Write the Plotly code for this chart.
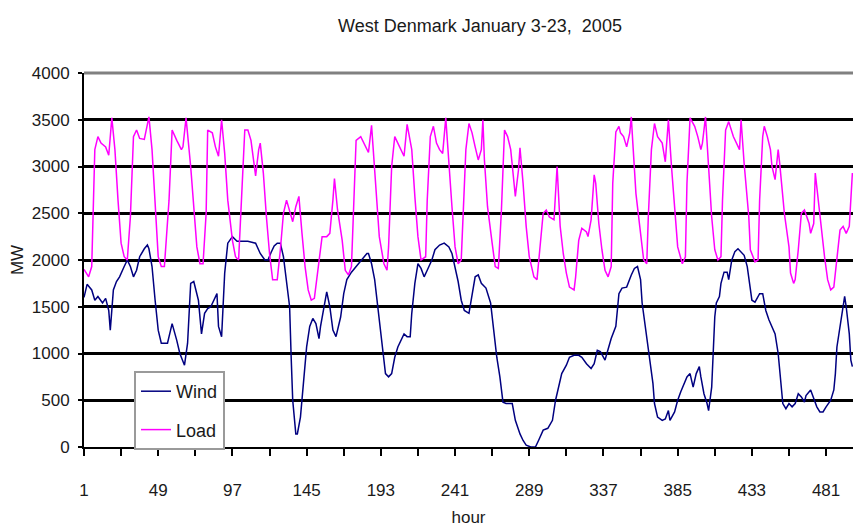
import plotly.graph_objects as go

# ---- data ----
wind_hour = [1, 3, 6, 8, 10, 13, 15, 17, 18, 20, 22, 24, 27, 29, 31, 33, 35, 37, 40, 42, 43, 45, 47, 49, 51, 55, 57, 58, 61,
             63, 66, 68, 70, 72, 75, 77, 79, 81, 83, 85, 87, 88, 90, 92, 94, 97, 100, 103, 107, 112, 115, 118, 120, 122,
             124, 126, 128, 130, 132, 134, 135, 136, 138, 139, 141, 143, 145, 147, 149, 151, 153, 154, 156, 158, 160, 162,
             164, 167, 169, 171, 174, 177, 181, 184, 185, 187, 189, 191, 193, 195, 196, 198, 200, 202, 204, 208, 210, 212,
             213, 215, 217, 219, 221, 223, 226, 228, 231, 234, 237, 239, 241, 243, 245, 247, 250, 252, 254, 256, 258, 261,
             264, 266, 268, 270, 272, 274, 278, 280, 283, 285, 287, 290, 293, 295, 298, 301, 304, 306, 308, 310, 313, 315,
             318, 321, 323, 326, 329, 331, 333, 335, 338, 340, 342, 345, 347, 349, 352, 355, 357, 359, 361, 362, 364, 366,
             368, 369, 370, 372, 375, 377, 379, 380, 383, 385, 387, 389, 391, 393, 395, 397, 399, 400, 402, 404, 405, 407,
             408, 409, 410, 412, 413, 415, 417, 418, 420, 422, 424, 426, 428, 430, 432, 433, 435, 438, 440, 442, 444, 446,
             448, 450, 452, 453, 455, 457, 459, 461, 463, 465, 467, 468, 471, 473, 475, 477, 479, 481, 484, 486, 487, 488,
             490, 492, 493, 494, 496, 497, 498]
wind_mw = [1600, 1740, 1680, 1570, 1610, 1540, 1590, 1460, 1250, 1680, 1770, 1820, 1930, 2000, 1930, 1820, 1890, 2035, 2120,
           2160, 2120, 1930, 1570, 1250, 1110, 1110, 1250, 1320, 1140,
           1000, 875, 1110, 1750, 1770, 1570, 1210, 1430, 1480, 1500, 1570, 1640, 1290, 1180, 1860, 2180, 2250, 2200, 2200,
           2200, 2180, 2070, 2000, 2000, 2080,
           2150, 2180, 2180, 2035, 1790, 1500, 960, 500, 140, 140, 320, 680, 1070, 1290, 1375, 1320, 1160, 1290, 1500, 1660,
           1500, 1250,
           1180, 1390, 1640, 1790, 1870, 1930, 2000, 2070, 2070, 1960, 1790, 1500, 1210, 960, 785, 750, 785, 960, 1070, 1210,
           1180, 1180,
           1430, 1750, 1960, 1910, 1820, 1890, 2000, 2110, 2160, 2180, 2140, 2070, 1930, 1770, 1570, 1460, 1430, 1610, 1820,
           1840, 1750, 1700,
           1540, 1250, 960, 750, 480, 465, 465, 285, 140, 70, 20, 0, 0, 70, 180, 200, 285, 500, 640, 785, 875, 960,
           980, 980, 960, 890, 840, 890, 1035, 1020, 930, 1035, 1160, 1290, 1640, 1700, 1710, 1840, 1910, 1930, 1790, 1540,
           1290, 1070,
           785, 680, 465, 320, 285, 300, 390, 285, 375, 500, 590, 680, 750, 785, 640, 785, 860, 750, 570, 465, 390, 640,
           1000, 1390, 1540, 1610, 1750, 1870, 1870, 1790, 2000, 2090, 2120, 2090, 2050, 1930, 1680, 1570, 1550, 1640, 1640,
           1460, 1360, 1290,
           1210, 1000, 640, 465, 410, 465, 430, 465, 570, 535, 480, 550, 610, 520, 430, 375, 375, 430, 500, 610, 785, 1070,
           1290, 1460, 1610, 1500, 1210, 930, 860]

load_hour = [1, 4, 6, 8, 10, 12, 15, 17, 19, 21, 23, 25, 27, 29, 31, 33, 35, 37, 40, 42, 43, 45, 47, 49, 51, 53, 56, 58, 61,
             62, 64, 65, 67, 70, 72, 74, 76, 78, 80, 81, 84, 86, 88, 90, 92, 94, 97, 99, 101, 103, 105, 107, 109, 112, 114,
             115, 117, 119, 121, 123, 126, 128, 130, 132, 134, 136, 138, 140, 142, 144, 146, 148, 150, 153, 155, 158, 160,
             162, 163, 165, 168, 170, 172, 174, 176, 177, 180, 182, 184, 185, 187, 190, 192, 195, 197, 198, 200, 202, 204,
             206, 208, 210, 213, 215, 217, 219, 222, 223, 225, 227, 229, 231, 233, 235, 237, 239, 241, 243, 245, 246, 248,
             250, 252, 254, 256, 258, 259, 260, 262, 265, 267, 269, 271, 273, 275, 277, 279, 280, 282, 283, 285, 287, 289,
             292, 294, 296, 298, 300, 302, 305, 307, 309, 311, 313, 315, 318, 319, 321, 323, 326, 327, 329, 331, 332, 334,
             336, 338, 340, 342, 343, 345, 347, 348, 350, 352, 354, 355, 356, 358, 361, 363, 365, 366, 368, 370, 372, 375,
             377, 379, 381, 383, 385, 388, 390, 391, 393, 396, 398, 400, 401, 403, 405, 407, 409, 411, 413, 414, 416, 418,
             421, 423, 425, 426, 428, 431, 432, 435, 437, 438, 440, 441, 443, 445, 446, 448, 450, 451, 453, 454, 457, 458,
             460, 461, 463, 465, 467, 470, 471, 473, 474, 476, 478, 480, 482, 484, 486, 488, 490, 492, 494, 496, 497, 498]
load_mw = [1900, 1820, 1930, 3180, 3320, 3250, 3210, 3120, 3520, 3180, 2640, 2180, 2035, 2000, 2460, 3320, 3390, 3300, 3290,
           3430, 3530, 3180, 2535, 2035, 1930, 1930, 2640, 3390, 3280,
           3250, 3180, 3210, 3520, 3000, 2535, 2140, 1960, 1960, 2500, 3390, 3360, 3210, 3110, 3500, 3140, 2640, 2210, 2035,
           2000, 2640, 3390, 3390, 3280, 2900, 3180,
           3250, 2930, 2460, 2070, 1790, 1790, 2110, 2500, 2640, 2535, 2410, 2570, 2680, 2285, 1930, 1680, 1570, 1590, 2000,
           2250, 2250, 2285,
           2640, 2870, 2535, 2210, 1890, 1840, 1930, 2820, 3280, 3320, 3250, 3180, 3150, 3440, 2710, 2250, 1960, 1890, 2140,
           3000, 3320, 3250,
           3180, 3110, 3450, 3180, 2680, 2250, 2000, 2035, 2640, 3320, 3430, 3250, 3180, 3140, 3520, 3000, 2570, 2140, 1960,
           2000, 2460, 3180,
           3460, 3360, 3210, 3070, 3180, 3500, 3070, 2570, 2180, 1930, 1910, 2535, 3390, 3320, 3180, 2890, 2680, 2960, 3200,
           2820, 2360, 2035,
           1820, 1790, 2110, 2500, 2535, 2460, 2430, 3000, 2360, 2070, 1860, 1710, 1680, 1820, 2210, 2340, 2300, 2250, 2430,
           2910, 2820, 2390,
           2110, 1890, 1820, 1930, 2820, 3370, 3430, 3360, 3320, 3210, 3360, 3530, 3250, 2710, 2285, 2000, 1960, 2460, 3180,
           3460, 3320, 3250,
           3050, 3500, 3000, 2535, 2140, 1960, 2035, 2820, 3520, 3430, 3320, 3180, 3250, 3530, 3000, 2460, 2110, 2000, 2035,
           2640, 3390, 3480,
           3320, 3250, 3180, 3500, 3030, 2460, 2110, 1980, 2000, 2640, 3320, 3430, 3320, 3180, 3000, 2860, 3180, 3030, 2710,
           2500, 2140, 1860,
           1750, 1790, 2110, 2500, 2535, 2390, 2285, 2390, 2930, 2610, 2285, 2035, 1790, 1680, 1710, 2035, 2320, 2360, 2285,
           2360, 2640, 2930]

series_names = ["Wind", "Load"]
series_colors = ["#000080", "#FF00FF"]
x_label_step = 48
x_minor_step = 24
y_tick_step = 500
y_max = 4000

sans = "Liberation Sans, Arial, sans-serif"
txt = "#1a1a1a"

fig = go.Figure()
fig.add_trace(go.Scatter(x=wind_hour, y=wind_mw, mode="lines", name=series_names[0], legendgroup="g1",
                         line=dict(color=series_colors[0], width=1.5)))
fig.add_trace(go.Scatter(x=load_hour, y=load_mw, mode="lines", name=series_names[1], legendgroup="g2",
                         line=dict(color=series_colors[1], width=1.5)))

fig.update_layout(
    width=853, height=529,
    margin=dict(l=84, r=0, t=73, b=82),
    paper_bgcolor="white", plot_bgcolor="white",
    title=dict(text="West Denmark January 3-23,\u00a0 2005", x=480 / 853, xanchor="center",
               y=1 - 26 / 529, yanchor="middle", font=dict(family=sans, size=18, color=txt)),
    legend=dict(x=(134 - 84) / 769, y=(447 - 371) / 374, xanchor="left", yanchor="top",
                bgcolor="white", bordercolor="#9a9a9a", borderwidth=2, itemwidth=30,
                font=dict(family=sans, size=18, color=txt), tracegroupgap=12),
    font=dict(family=sans, color=txt),
)

fig.update_xaxes(
    range=[1, 498.4], tickmode="linear", tick0=1, dtick=x_label_step, automargin=False,
    ticks="outside", ticklen=7, tickwidth=2, tickcolor="black",
    minor=dict(tick0=1, dtick=x_minor_step, ticks="outside", ticklen=7, tickwidth=2, tickcolor="black", showgrid=False),
    showline=True, linecolor="black", linewidth=2, showgrid=False, zeroline=False,
    tickfont=dict(family=sans, size=17, color=txt), ticklabelstandoff=20,
    title=dict(text="hour", font=dict(family=sans, size=17, color=txt), standoff=12),
)
fig.update_yaxes(
    range=[0, y_max], tickmode="linear", tick0=0, dtick=y_tick_step, automargin=False,
    ticks="outside", ticklen=4, tickwidth=2, tickcolor="black",
    showline=True, linecolor="black", linewidth=2,
    showgrid=True, gridcolor="black", gridwidth=3, zeroline=False,
    tickfont=dict(family=sans, size=17, color=txt), ticklabelstandoff=5,
    title=dict(text="MW", font=dict(family=sans, size=17, color=txt), standoff=4),
)
# top border of the plot area (grey line at the 4000 level)
fig.add_shape(type="line", xref="paper", yref="paper", x0=0, x1=1, y0=1, y1=1,
              line=dict(color="#808080", width=3), layer="above")

fig.write_html("out.html", config={"displayModeBar": False},
               post_script="document.body.style.margin='0';document.body.style.overflow='hidden';")
